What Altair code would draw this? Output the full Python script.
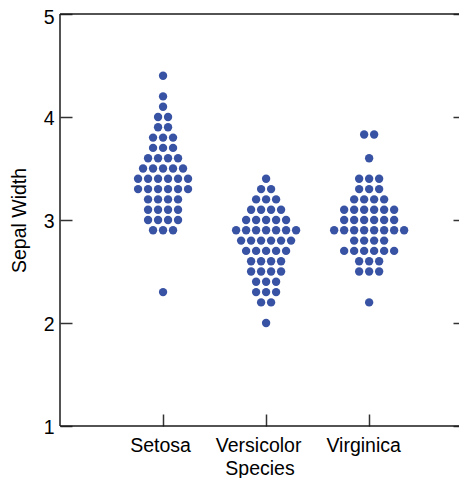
import altair as alt
import pandas as pd

species = ["Setosa", "Versicolor", "Virginica"]

setosa = [4.4, 4.2, 4.1, 4.0, 4.0, 3.9, 3.9, 3.8, 3.8, 3.8, 3.7, 3.7, 3.7,
          3.6, 3.6, 3.6, 3.6, 3.5, 3.5, 3.5, 3.5, 3.5,
          3.4, 3.4, 3.4, 3.4, 3.4, 3.4, 3.3, 3.3, 3.3, 3.3, 3.3, 3.3,
          3.2, 3.2, 3.2, 3.2, 3.1, 3.1, 3.1, 3.1, 3.0, 3.0, 3.0, 3.0,
          2.9, 2.9, 2.9, 2.3]
versicolor = [3.4, 3.3, 3.3, 3.2, 3.2, 3.2, 3.1, 3.1, 3.1, 3.1,
              3.0, 3.0, 3.0, 3.0, 3.0, 2.9, 2.9, 2.9, 2.9, 2.9, 2.9, 2.9,
              2.8, 2.8, 2.8, 2.8, 2.8, 2.8, 2.7, 2.7, 2.7, 2.7, 2.7,
              2.6, 2.6, 2.6, 2.6, 2.5, 2.5, 2.5, 2.5, 2.4, 2.4, 2.4,
              2.3, 2.3, 2.3, 2.2, 2.2, 2.0]
virginica = [3.83, 3.83, 3.6, 3.4, 3.4, 3.4, 3.3, 3.3, 3.3,
             3.2, 3.2, 3.2, 3.2, 3.1, 3.1, 3.1, 3.1, 3.1, 3.1,
             3.0, 3.0, 3.0, 3.0, 3.0, 3.0,
             2.9, 2.9, 2.9, 2.9, 2.9, 2.9, 2.9, 2.9,
             2.8, 2.8, 2.8, 2.8, 2.7, 2.7, 2.7, 2.7, 2.7, 2.7,
             2.6, 2.6, 2.6, 2.5, 2.5, 2.5, 2.2]

y_ticks = [1, 2, 3, 4, 5]

rows = []
for i, (name, vals) in enumerate(zip(species, [setosa, versicolor, virginica])):
    for v in vals:
        rows.append({"species": name, "pos": i + 1, "width": v})
df = pd.DataFrame(rows)

W, H = 399, 412
XMAX = 3.872
STEP = 0.097  # horizontal spacing of dots in x units
COLOR = "#3953a4"
LINE = "#1a1a1a"

xs = alt.Scale(domain=[0, XMAX], nice=False, zero=False)
ys = alt.Scale(domain=[1, 5], nice=False, zero=False)

label_expr = " : ".join(
    [f"datum.value == {i + 1} ? '{n}'" for i, n in enumerate(species)]
) + " : ''"

x_axis = alt.Axis(
    values=[1, 2, 3], labelExpr=label_expr, title="Species",
    offset=-12, tickSize=12, domain=False, grid=False,
    labelPadding=10, titlePadding=5,
    labelOffset={"condition": [{"test": "datum.value == 1", "value": -3},
                               {"test": "datum.value == 2", "value": -8}],
                 "value": -6},
)

points = (
    alt.Chart(df)
    .transform_window(rank="row_number()", groupby=["species", "width"])
    .transform_joinaggregate(n="count()", groupby=["species", "width"])
    .transform_calculate(xpos=f"datum.pos + (datum.rank - (datum.n + 1) / 2) * {STEP}")
    .mark_circle(size=70, color=COLOR, opacity=1)
    .encode(
        x=alt.X("xpos:Q", scale=xs, axis=x_axis),
        y=alt.Y("width:Q", scale=ys,
                axis=alt.Axis(values=y_ticks, title="Sepal Width", offset=-12,
                              tickSize=12, domain=False, grid=False,
                              labelPadding=6, titlePadding=14,
                              labelOffset={"condition": {"test": "datum.value == 5", "value": 3.5},
                                           "value": 1})),
    )
)

one = alt.Data(values=[{}])

left_line = alt.Chart(one).mark_rule(color=LINE, strokeWidth=1.5).encode(
    x=alt.X(datum=0, scale=xs, axis=x_axis),
    y=alt.Y(datum=1, scale=ys, axis=None),
    y2=alt.datum(5),
)
bottom_line = alt.Chart(one).mark_rule(color=LINE, strokeWidth=1.5).encode(
    x=alt.X(datum=0, scale=xs, axis=x_axis),
    x2=alt.datum(XMAX),
    y=alt.Y(datum=1, scale=ys,
            axis=alt.Axis(orient="right", values=y_ticks, labels=False, title=None,
                          offset=-6, tickSize=6, domain=False, grid=False)),
)
top_line = alt.Chart(one).mark_rule(color=LINE, strokeWidth=1.5).encode(
    x=alt.X(datum=0, scale=xs, axis=x_axis),
    x2=alt.datum(XMAX),
    y=alt.Y(datum=5, scale=ys, axis=None),
)

chart = (
    alt.layer(points, left_line, bottom_line, top_line)
    .resolve_axis(y="independent")
    .properties(
        width=W,
        height=H,
        padding={"left": 52, "top": 6, "right": 0, "bottom": 52},
        autosize=alt.AutoSizeParams(type="none"),
    )
    .configure_view(stroke=None)
    .configure_axis(
        labelFont="Liberation Sans",
        titleFont="Liberation Sans",
        labelFontSize=19.5,
        titleFontSize=19.5,
        titleFontWeight="normal",
        labelColor="black",
        titleColor="black",
        tickColor="#333",
        tickWidth=1.5,
    )
)

chart.save("out.html", embed_options={"renderer": "svg", "actions": False})
